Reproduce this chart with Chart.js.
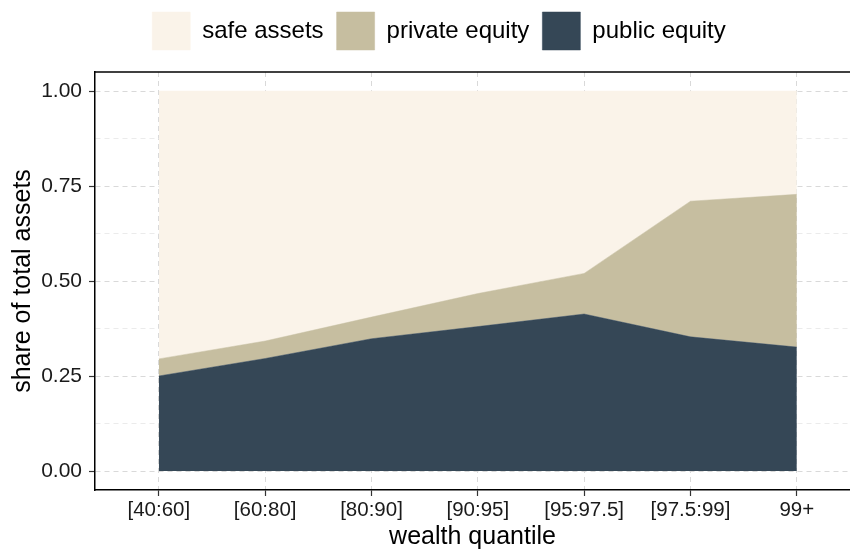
<!DOCTYPE html>
<html>
<head>
<meta charset="utf-8">
<script src="https://cdn.jsdelivr.net/npm/chart.js@4/dist/chart.umd.min.js"></script>
<style>
body{margin:0;background:#fff}
canvas{display:block}
</style>
</head>
<body>
<canvas id="chart" width="850" height="550"></canvas>
<script>
// wealth quantile buckets
const categories=["[40:60]","[60:80]","[80:90]","[90:95]","[95:97.5]","[97.5:99]","99+"]

// shares of total assets
const publicEquity=[0.250,0.296,0.348,0.380,0.413,0.353,0.326]
const privateEquity=[0.045,0.046,0.057,0.087,0.107,0.357,0.402]
const safeAssets=[0.705,0.658,0.595,0.533,0.480,0.290,0.272]

const yTicks=[0,0.125,0.25,0.375,0.5,0.625,0.75,0.875,1]
const yLabels=["0.00","","0.25","","0.50","","0.75","","1.00"]

const font="'Liberation Sans', Arial, sans-serif"

function pts(arr){
return arr.map((v,i)=>({x:i,y:v}))
}

function area(label,data,color,fill){
return {
label:label,
data:pts(data),
backgroundColor:color,
borderColor:color,
borderWidth:0.5,
pointRadius:0,
tension:0,
fill:fill
}
}

// extra room under the legend, legend nudged right, and the top edge of the panel
let frame={
id:"frame",
beforeInit(chart){
let fit=chart.legend.fit
chart.legend.fit=function(){
fit.call(this)
this.height+=11
}
},
afterLayout(chart){
chart.legend.left+=28
chart.legend.top-=1
},
afterDraw(chart){
let a=chart.chartArea
let c=chart.ctx
c.save()
c.strokeStyle="#000"
c.lineWidth=1.5
c.beginPath()
c.moveTo(a.left,a.top)
c.lineTo(a.right,a.top)
c.stroke()
c.restore()
}
}

let ctx=document.getElementById("chart").getContext("2d")

let chart=new Chart(ctx,{
type:"line",
data:{
datasets:[
area("public equity",publicEquity,"#354756","origin"),
area("private equity",privateEquity,"#c6bea0","-1"),
area("safe assets",safeAssets,"#faf3e9","-1")
]
},
plugins:[frame],
options:{
responsive:false,
animation:false,
layout:{padding:0},
plugins:{
tooltip:{enabled:false},
legend:{
position:"top",
reverse:true,
labels:{
boxWidth:38,
boxHeight:38,
padding:13,
color:"#000",
font:{family:font,size:24}
}
}
},
scales:{
x:{
type:"linear",
min:-0.6,
max:6.5,
afterBuildTicks:s=>{s.ticks=categories.map((c,i)=>({value:i}))},
afterFit:s=>{s.height=60},
ticks:{
autoSkip:false,
maxRotation:0,
color:"#1a1a1a",
padding:2,
font:{family:font,size:20.5},
callback:v=>categories[v]
},
grid:{
color:"#d9d9d9",
tickColor:"#333",
tickLength:6,
tickWidth:1.2,
tickBorderDash:[]
},
border:{display:true,color:"#000",width:1.5,dash:[5,4]},
title:{
display:true,
text:"wealth quantile",
color:"#000",
font:{family:font,size:25,lineHeight:1},
padding:{top:0,bottom:0}
}
},
y:{
type:"linear",
stacked:true,
min:-0.05,
max:1.05,
afterBuildTicks:s=>{s.ticks=yTicks.map(v=>({value:v}))},
afterFit:s=>{s.width=95},
ticks:{
color:"#1a1a1a",
padding:7,
font:{family:font,size:21},
callback:(v,i)=>yLabels[i]
},
grid:{
color:c=>c.index%2==0?"#d9d9d9":"#ebebeb",
tickColor:c=>c.index%2==0?"#333":"rgba(0,0,0,0)",
tickLength:6,
tickWidth:1.2,
tickBorderDash:[]
},
border:{display:true,color:"#000",width:1.5,dash:[5,4]},
title:{
display:true,
text:"share of total assets",
color:"#000",
font:{family:font,size:25,lineHeight:1},
padding:{top:11,bottom:0}
}
}
}
}
})
</script>
</body>
</html>
